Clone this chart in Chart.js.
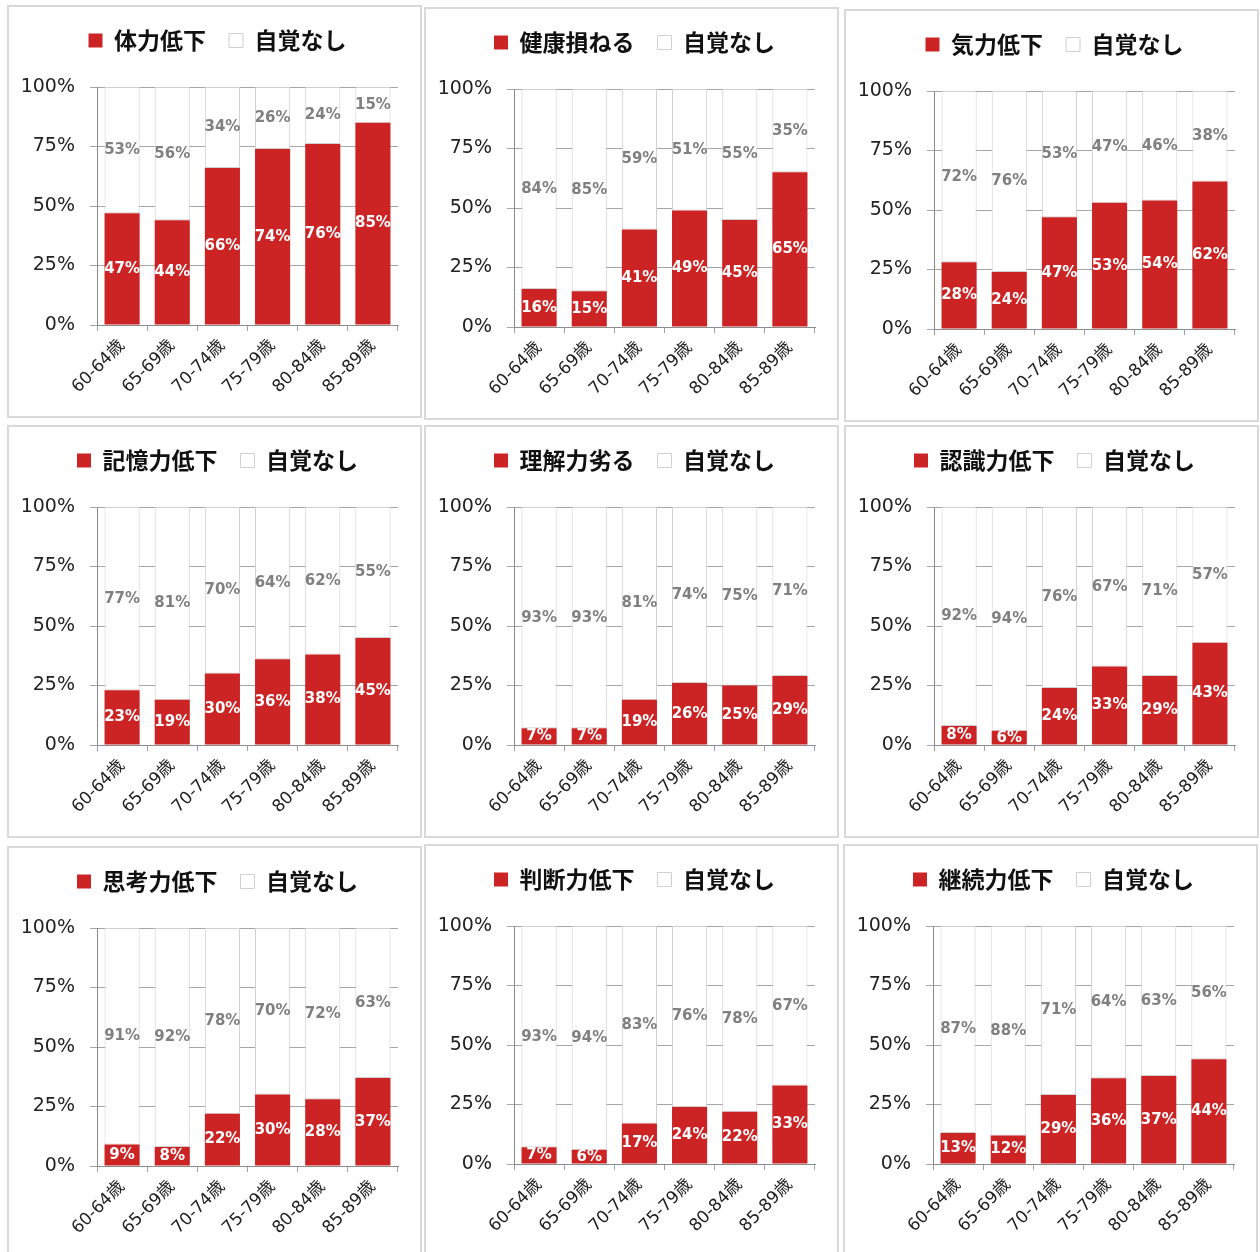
<!DOCTYPE html>
<html>
<head>
<meta charset="utf-8">
<script src="https://cdn.jsdelivr.net/npm/chart.js@4"></script>
<style>
  body { margin: 0; background: #fff; }
  .panel { position: absolute; width: 415px; height: 413px; box-sizing: border-box; border: 2px solid #d9d9d9; background: #fff; }
  .panel canvas { display: block; }
</style>
</head>
<body>
<script>
// 年齢区分
const ageLabels = ['60-64歳', '65-69歳', '70-74歳', '75-79歳', '80-84歳', '85-89歳']
const yTicks = [0, 25, 50, 75, 100]
const noneLabel = '自覚なし'

// 各項目（自覚あり / 自覚なし, %）
const physical = [47, 44, 66, 74, 76, 85]
const physicalNone = [53, 56, 34, 26, 24, 15]
const health = [16, 15, 41, 49, 45, 65]
const healthNone = [84, 85, 59, 51, 55, 35]
const vigor = [28, 24, 47, 53, 54, 62]
const vigorNone = [72, 76, 53, 47, 46, 38]
const memory = [23, 19, 30, 36, 38, 45]
const memoryNone = [77, 81, 70, 64, 62, 55]
const understanding = [7, 7, 19, 26, 25, 29]
const understandingNone = [93, 93, 81, 74, 75, 71]
const recognition = [8, 6, 24, 33, 29, 43]
const recognitionNone = [92, 94, 76, 67, 71, 57]
const thinking = [9, 8, 22, 30, 28, 37]
const thinkingNone = [91, 92, 78, 70, 72, 63]
const judgment = [7, 6, 17, 24, 22, 33]
const judgmentNone = [93, 94, 83, 76, 78, 67]
const persistence = [13, 12, 29, 36, 37, 44]
const persistenceNone = [87, 88, 71, 64, 63, 56]

const panels = [
  { title: '体力低下', data: physical, none: physicalNone, left: 7, top: 5 },
  { title: '健康損ねる', data: health, none: healthNone, left: 424, top: 7 },
  { title: '気力低下', data: vigor, none: vigorNone, left: 844, top: 9 },
  { title: '記憶力低下', data: memory, none: memoryNone, left: 7, top: 425 },
  { title: '理解力劣る', data: understanding, none: understandingNone, left: 424, top: 425 },
  { title: '認識力低下', data: recognition, none: recognitionNone, left: 844, top: 425 },
  { title: '思考力低下', data: thinking, none: thinkingNone, left: 7, top: 846 },
  { title: '判断力低下', data: judgment, none: judgmentNone, left: 424, top: 844 },
  { title: '継続力低下', data: persistence, none: persistenceNone, left: 843, top: 844 }
]

const RED = '#cc2424'
const LATIN = '"DejaVu Sans", "Noto Sans CJK JP", sans-serif'
const CJK = '"Noto Sans CJK JP", "DejaVu Sans", sans-serif'

// バー中央にラベル描画
const segmentLabels = {
  id: 'segmentLabels',
  afterDatasetsDraw(chart) {
    const ctx = chart.ctx
    ctx.save()
    ctx.font = 'bold 15px ' + LATIN
    ctx.textAlign = 'center'
    ctx.textBaseline = 'middle'
    chart.data.datasets.forEach((ds, i) => {
      ctx.fillStyle = ds.labelColor
      chart.getDatasetMeta(i).data.forEach((bar, j) => {
        const p = bar.getProps(['x', 'y', 'base'], true)
        ctx.fillText(ds.data[j] + '%', p.x, (p.y + p.base) / 2)
      })
    })
    ctx.restore()
  }
}

// 凡例の位置調整（上寄せ・中央寄せ）
const legendShift = {
  id: 'legendShift',
  afterLayout(chart) {
    const lg = chart.legend
    lg.left += 14
    lg.right += 14
    lg.top -= 25
    lg.bottom -= 25
  }
}

panels.forEach(p => {
  let div = document.createElement('div')
  div.className = 'panel'
  div.style.left = p.left + 'px'
  div.style.top = p.top + 'px'
  let canvas = document.createElement('canvas')
  canvas.width = 411
  canvas.height = 409
  div.appendChild(canvas)
  document.body.appendChild(div)

  new Chart(canvas.getContext('2d'), {
    type: 'bar',
    data: {
      labels: ageLabels,
      datasets: [
        { label: p.title, data: p.data, backgroundColor: RED, borderWidth: 0, labelColor: '#ffffff',
          barPercentage: 0.7, categoryPercentage: 1.0 },
        { label: noneLabel, data: p.none, backgroundColor: '#ffffff', borderColor: '#d0d0d0', borderWidth: 1,
          borderSkipped: false, labelColor: '#808080', barPercentage: 0.7, categoryPercentage: 1.0 }
      ]
    },
    options: {
      responsive: false,
      animation: false,
      layout: { padding: { left: 0, right: 22, top: 24, bottom: 0 } },
      plugins: {
        legend: {
          position: 'top',
          labels: {
            boxWidth: 14,
            boxHeight: 14,
            padding: 23,
            color: '#111',
            font: { family: CJK, size: 23, weight: 'bold' }
          }
        },
        tooltip: { enabled: false }
      },
      scales: {
        x: {
          stacked: true,
          grid: { drawOnChartArea: false, tickLength: 6, color: '#a0a0a0' },
          border: { color: '#8c8c8c' },
          ticks: { minRotation: 45, maxRotation: 45, padding: 5, color: '#222', font: { family: LATIN, size: 17 } },
          afterFit: s => { s.height = 91 }
        },
        y: {
          stacked: true,
          min: yTicks[0],
          max: yTicks[yTicks.length - 1],
          grid: { color: '#a6a6a6', tickLength: 7 },
          border: { color: '#8c8c8c' },
          afterBuildTicks: s => { s.ticks = yTicks.map(v => ({ value: v })) },
          ticks: { padding: 15, color: '#222', font: { family: LATIN, size: 19 }, callback: v => v + '%' },
          afterFit: s => { s.width = 88 }
        }
      }
    },
    plugins: [segmentLabels, legendShift]
  })
})
</script>
</body>
</html>
